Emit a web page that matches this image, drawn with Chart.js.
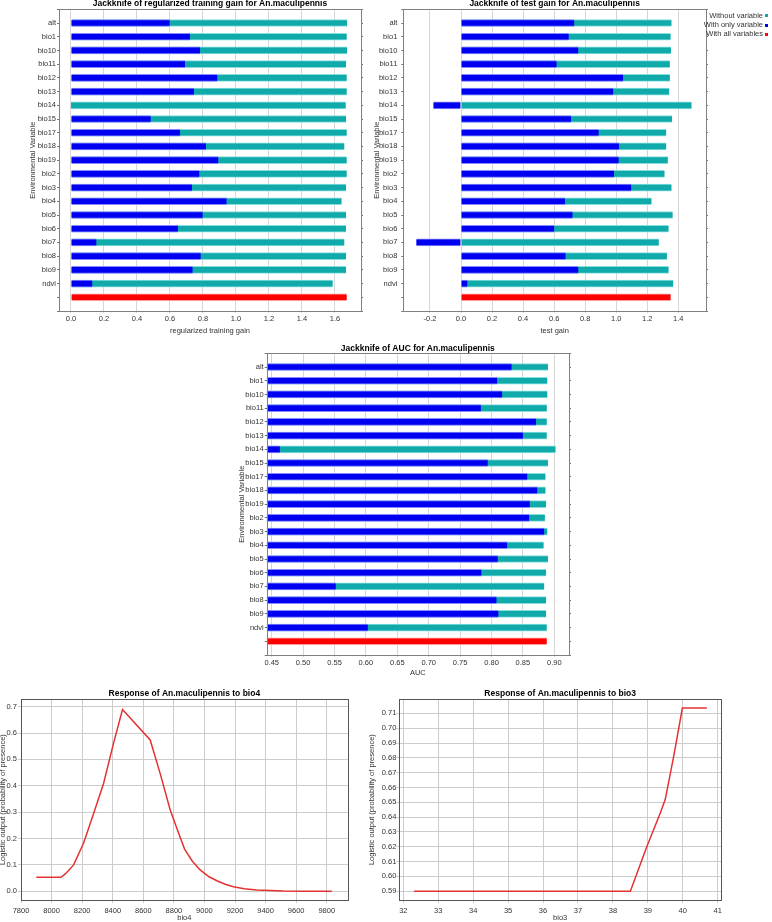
<!DOCTYPE html>
<html>
<head>
<meta charset="utf-8">
<script src="https://cdn.jsdelivr.net/npm/chart.js@4.4.1/dist/chart.umd.min.js"></script>
<style>
  body { margin: 0; width: 772px; height: 922px; position: relative; overflow: hidden; background: #fff;
         font-family: "Liberation Sans", Arial, sans-serif; }
  canvas { position: absolute; background: #fff; }
  .leg { position: absolute; font-size: 7.5px; line-height: 9px; color: #333; white-space: nowrap; }
  .legbox { position: absolute; right: 4px; text-align: right; }
  .legbox div { font-size: 7.5px; line-height: 9.2px; color: #333; white-space: nowrap; }
  .mk { display: inline-block; width: 3px; height: 3px; margin-left: 2px; vertical-align: middle; }
</style>
</head>
<body>
<!-- legend of the first panel, mostly hidden under the second one -->
<div class="leg" style="left:365px;top:20.5px">With only variable</div>
<div class="leg" style="left:365px;top:28.8px">With all variables</div>

<canvas id="c1" width="370" height="340" style="left:0;top:0"></canvas>
<canvas id="c2" width="402" height="340" style="left:370px;top:0"></canvas>
<div class="legbox" style="top:10.8px">
  <div>Without variable<span class="mk" style="background:#10aaaa"></span></div>
  <div>With only variable<span class="mk" style="background:#0000f0"></span></div>
  <div>With all variables<span class="mk" style="background:#ff0000"></span></div>
</div>
<canvas id="c3" width="380" height="345" style="left:200px;top:335px"></canvas>
<canvas id="c4" width="360" height="237" style="left:0;top:685px"></canvas>
<canvas id="c5" width="412" height="237" style="left:360px;top:685px"></canvas>

<script>
const variables = ["alt", "bio1", "bio10", "bio11", "bio12", "bio13", "bio14", "bio15", "bio17", "bio18",
  "bio19", "bio2", "bio3", "bio4", "bio5", "bio6", "bio7", "bio8", "bio9", "ndvi"];

// regularized training gain
const trainWithout = [1.673, 1.671, 1.673, 1.667, 1.671, 1.671, 1.665, 1.667, 1.671, 1.657,
  1.671, 1.671, 1.667, 1.640, 1.667, 1.667, 1.657, 1.667, 1.667, 1.586];
const trainOnly = [0.598, 0.721, 0.782, 0.691, 0.887, 0.745, 0.006, 0.483, 0.661, 0.818,
  0.893, 0.778, 0.733, 0.943, 0.798, 0.648, 0.154, 0.786, 0.737, 0.129];
const trainAll = 1.671;

// test gain
const testWithout = [1.357, 1.351, 1.353, 1.346, 1.346, 1.342, 1.486, 1.361, 1.323, 1.323,
  1.333, 1.312, 1.357, 1.228, 1.364, 1.338, 1.275, 1.327, 1.338, 1.368];
const testOnly = [0.730, 0.694, 0.756, 0.616, 1.044, 0.981, -0.178, 0.709, 0.887, 1.018,
  1.016, 0.986, 1.097, 0.670, 0.719, 0.601, -0.288, 0.674, 0.756, 0.041];
const testAll = 1.351;

// AUC
const aucWithout = [0.890, 0.889, 0.889, 0.888, 0.888, 0.888, 0.902, 0.890, 0.886, 0.886,
  0.887, 0.885, 0.889, 0.883, 0.890, 0.887, 0.884, 0.887, 0.887, 0.888];
const aucOnly = [0.832, 0.809, 0.817, 0.783, 0.871, 0.850, 0.463, 0.794, 0.857, 0.873,
  0.861, 0.860, 0.884, 0.825, 0.810, 0.784, 0.552, 0.808, 0.811, 0.603];
const aucAll = 0.888;

// response curves
const bio4X = [7900, 8061, 8090, 8144, 8209, 8275, 8340, 8405, 8464, 8645, 8710, 8776, 8830, 8870,
  8920, 8972, 9030, 9081, 9140, 9190, 9260, 9342, 9430, 9516, 9640, 9833];
const bio4Y = [0.053, 0.053, 0.066, 0.100, 0.182, 0.295, 0.409, 0.561, 0.689, 0.574, 0.447, 0.308, 0.222, 0.160,
  0.115, 0.081, 0.055, 0.040, 0.026, 0.017, 0.010, 0.005, 0.003, 0.001, 0.000, 0.000];
const bio3X = [32.31, 38.50, 38.97, 39.36, 39.50, 39.74, 39.99, 40.69];
const bio3Y = [0.590, 0.590, 0.620, 0.643, 0.652, 0.681, 0.7136, 0.7136];

const TEAL = "#10aaaa";
const BLUE = "#0000f0";
const RED = "#ff0000";

Chart.defaults.font.family = '"Liberation Sans", Arial, sans-serif';
Chart.defaults.font.size = 7.5;
Chart.defaults.color = "#333";

// force scale box sizes so the plot areas land where the reference has them
function fix(size) {
  return function (scale) {
    if (scale.isHorizontal()) scale.height = size;
    else scale.width = size;
  };
}

// frame round the plot area + bold title centred over it
function framePlugin(title, titleY, color) {
  return {
    id: "frame",
    afterDraw: function (chart) {
      let a = chart.chartArea;
      let ctx = chart.ctx;
      ctx.save();
      ctx.strokeStyle = color;
      ctx.lineWidth = 1;
      ctx.strokeRect(Math.round(a.left) + 0.5, Math.round(a.top) + 0.5,
        Math.round(a.right - a.left), Math.round(a.bottom - a.top));
      ctx.fillStyle = "#000";
      ctx.font = 'bold 8.5px "Liberation Sans", Arial, sans-serif';
      ctx.textAlign = "center";
      ctx.textBaseline = "middle";
      ctx.fillText(title, (a.left + a.right) / 2, titleY);
      ctx.restore();
    },
  };
}

function jackknifeChart(id, p) {
  // blank rows above alt and below the "all" bar
  let labels = [""].concat(variables, ["", ""]);
  let pad = function (arr) { return [null].concat(arr, [null, null]); };
  let allRow = labels.map(function (l, i) { return i === labels.length - 2 ? p.all : null; });

  let barBase = {
    grouped: false,
    barThickness: 7,
    borderWidth: { top: 1, bottom: 1, left: 0, right: 0 },
    base: p.base,
  };
  let config = {
    type: "bar",
    data: {
      labels: labels,
      datasets: [
        Object.assign({ label: "With only variable", data: pad(p.only), backgroundColor: BLUE, borderColor: "#8888ff" }, barBase),
        Object.assign({ label: "Without variable", data: pad(p.without), backgroundColor: TEAL, borderColor: "#86dede" }, barBase),
        Object.assign({ label: "With all variables", data: allRow, backgroundColor: RED, borderColor: "#ff9a9a" }, barBase),
      ],
    },
    options: {
      indexAxis: "y",
      responsive: false,
      animation: false,
      layout: { padding: p.padding },
      plugins: { legend: { display: false }, tooltip: { enabled: false } },
      scales: {
        y: {
          type: "category",
          offset: false,
          grid: { drawOnChartArea: false, offset: false, tickLength: 2, color: "#777" },
          border: { display: false },
          ticks: { autoSkip: false, padding: p.labelPad, color: "#333" },
          title: { display: true, text: "Environmental Variable", color: "#333", padding: { top: p.yTitlePad, bottom: 0 } },
          afterFit: fix(p.yWidth),
        },
        y2: {
          type: "category",
          position: "right",
          offset: false,
          grid: { drawOnChartArea: false, offset: false, tickLength: 2, color: "#777" },
          border: { display: false },
          ticks: { display: false },
          afterFit: fix(2),
        },
        x: {
          type: "linear",
          min: p.min,
          max: p.max,
          grid: { color: "#d6d6d6", tickLength: 2 },
          border: { display: false },
          ticks: {
            stepSize: p.step,
            includeBounds: false,
            autoSkip: false,
            maxRotation: 0,
            padding: 1,
            callback: function (v) { return v.toFixed(p.digits); },
          },
          title: { display: true, text: p.xTitle, color: "#333", padding: 0 },
          afterFit: fix(p.xHeight),
        },
      },
    },
    plugins: [framePlugin(p.title, p.titleY, "#808080")],
  };
  return new Chart(document.getElementById(id), config);
}

function responseChart(id, p) {
  let points = p.xs.map(function (x, i) { return { x: x, y: p.ys[i] }; });
  let config = {
    type: "line",
    data: {
      datasets: [{
        data: points,
        borderColor: "rgb(228,50,50)",
        borderWidth: 1.5,
        pointRadius: 0,
        tension: 0,
        fill: false,
      }],
    },
    options: {
      responsive: false,
      animation: false,
      layout: { padding: p.padding },
      plugins: { legend: { display: false }, tooltip: { enabled: false } },
      scales: {
        x: {
          type: "linear",
          min: p.xmin,
          max: p.xmax,
          grid: { color: "#cccccc", tickLength: 3 },
          border: { display: false },
          ticks: {
            stepSize: p.xstep,
            includeBounds: false,
            maxRotation: 0,
            autoSkip: false,
            padding: 3,
            callback: function (v) { return v.toFixed(0); },
          },
          title: { display: true, text: p.xTitle, color: "#333", padding: 0 },
          afterFit: fix(22),
        },
        y: {
          type: "linear",
          min: p.ymin,
          max: p.ymax,
          grid: { color: "#cccccc", tickLength: 3 },
          border: { display: false },
          ticks: {
            stepSize: p.ystep,
            includeBounds: false,
            autoSkip: false,
            padding: p.labelPad,
            callback: function (v) { return v.toFixed(p.ydigits); },
          },
          title: { display: true, text: "Logistic output (probability of presence)", color: "#333",
            padding: { top: p.yTitlePad, bottom: 0 } },
          afterFit: fix(p.yWidth),
        },
      },
    },
    plugins: [framePlugin(p.title, 9, "#555")],
  };
  return new Chart(document.getElementById(id), config);
}

jackknifeChart("c1", {
  title: "Jackknife of regularized training gain for An.maculipennis",
  titleY: 3.8,
  without: trainWithout, only: trainOnly, all: trainAll,
  base: 0,
  min: -0.0727, max: 1.7576, step: 0.2, digits: 1,
  xTitle: "regularized training gain",
  padding: { top: 9.3, left: 0, right: 7, bottom: 4.5 },
  yWidth: 59, yTitlePad: 28.5, labelPad: 1, xHeight: 24.5,
});

jackknifeChart("c2", {
  title: "Jackknife of test gain for An.maculipennis",
  titleY: 3.8,
  without: testWithout, only: testOnly, all: testAll,
  base: 0,
  min: -0.372, max: 1.579, step: 0.2, digits: 1,
  xTitle: "test gain",
  padding: { top: 9.3, left: 0, right: 64, bottom: 4.5 },
  yWidth: 33.3, yTitlePad: 2.2, labelPad: 4, xHeight: 24.5,
});

jackknifeChart("c3", {
  title: "Jackknife of AUC for An.maculipennis",
  titleY: 13.3,
  without: aucWithout, only: aucOnly, all: aucAll,
  base: 0.442,
  min: 0.442, max: 0.9234, step: 0.05, digits: 2,
  xTitle: "AUC",
  padding: { top: 18.3, left: 0, right: 9, bottom: 2.8 },
  yWidth: 66.7, yTitlePad: 37.2, labelPad: 1, xHeight: 22.2,
});

responseChart("c4", {
  title: "Response of An.maculipennis to bio4",
  xs: bio4X, ys: bio4Y,
  xmin: 7800, xmax: 9937, xstep: 200, xTitle: "bio4",
  ymin: -0.033, ymax: 0.728, ystep: 0.1, ydigits: 1,
  padding: { top: 14.3, left: 0, right: 12.3, bottom: 0 },
  yWidth: 21, yTitlePad: -1.5, labelPad: 1,
});

responseChart("c5", {
  title: "Response of An.maculipennis to bio3",
  xs: bio3X, ys: bio3Y,
  xmin: 31.885, xmax: 41.095, xstep: 1, xTitle: "bio3",
  ymin: 0.5841, ymax: 0.7195, ystep: 0.01, ydigits: 2,
  padding: { top: 14.3, left: 0, right: 51, bottom: 0 },
  yWidth: 39.3, yTitlePad: 7.2, labelPad: 0,
});
</script>
</body>
</html>
